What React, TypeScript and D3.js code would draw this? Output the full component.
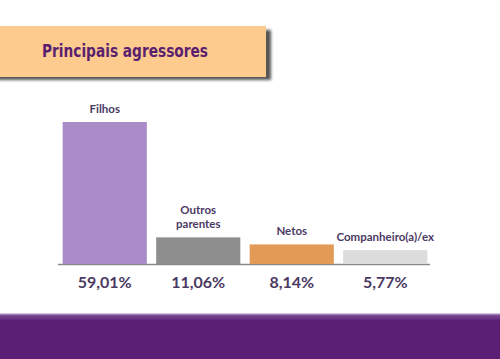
import React from "react";
import * as d3 from "d3";

const categories = ["Filhos", "Outros parentes", "Netos", "Companheiro(a)/ex"];
const labelLines = [["Filhos"], ["Outros", "parentes"], ["Netos"], ["Companheiro(a)/ex"]];
const values = [59.01, 11.06, 8.14, 5.77];
const valueLabels = ["59,01%", "11,06%", "8,14%", "5,77%"];
const barColors = ["#A98BC8", "#8E8E8E", "#E39A57", "#DCDCDC"];
const title = "Principais agressores";

export default function App() {
  const W = 500, H = 359;
  const baseY = 264;
  const x = d3.scaleBand<string>().domain(categories).range([58, 432]).paddingInner(0.1).paddingOuter(0.05);
  const y = d3.scaleLinear().domain([0, 59.01]).range([baseY, 122]);
  const textColor = "#4B3A63";
  return (
    <div style={{ position: "absolute", left: 0, top: 0 }}>
      <svg width={W} height={H} viewBox={`0 0 ${W} ${H}`} style={{ display: "block" }}>
        <defs>
          <filter id="sh" x="-10%" y="-30%" width="130%" height="180%">
            <feGaussianBlur stdDeviation="1.5" />
          </filter>
          <linearGradient id="foot" x1="0" y1="0" x2="0" y2="1">
            <stop offset="0" stopColor="#E9DDF0" />
            <stop offset="0.3" stopColor="#7A4A92" />
            <stop offset="1" stopColor="#5B1F75" />
          </linearGradient>
        </defs>
        <rect x={0} y={0} width={W} height={H} fill="#FFFFFF" />
        {/* title box */}
        <rect x={-10} y={30} width={281} height={50} fill="#555" filter="url(#sh)" />
        <rect x={-10} y={26} width={276} height={51} fill="#FDCB8E" />
        <text x={42} y={57} textLength={166} lengthAdjust="spacingAndGlyphs" fontFamily="'DejaVu Sans Condensed', 'DejaVu Sans', sans-serif" fontWeight="bold" fontSize={18} fill="#5A1F6E">
          {title}
        </text>
        {/* baseline */}
        <line x1={58} x2={430} y1={baseY + 0.5} y2={baseY + 0.5} stroke="#8A8A8A" strokeWidth={1.5} />
        {categories.map((c, i) => {
          const bx = x(c)!;
          const bw = x.bandwidth();
          const top = y(values[i]);
          const cx = bx + bw / 2;
          const lines = labelLines[i];
          return (
            <g key={c}>
              <rect x={bx} y={top} width={bw} height={baseY - top} fill={barColors[i]} />
              {lines.map((l, j) => (
                <text key={j} x={cx} y={top - 9 - (lines.length - 1 - j) * 14} textAnchor="middle" fontFamily="Lato, 'Open Sans', sans-serif" fontWeight="bold" fontSize={11.5} fill={textColor}>
                  {l}
                </text>
              ))}
              <text x={cx} y={288} textAnchor="middle" fontFamily="Lato, 'Open Sans', sans-serif" fontWeight="bold" fontSize={16} fill={textColor}>
                {valueLabels[i]}
              </text>
            </g>
          );
        })}
        {/* footer */}
        <rect x={0} y={313} width={W} height={8} fill="url(#foot)" />
        <rect x={0} y={320} width={W} height={H - 320} fill="#5B1F75" />
      </svg>
    </div>
  );
}
